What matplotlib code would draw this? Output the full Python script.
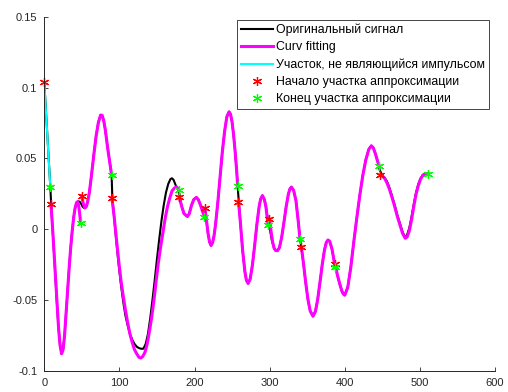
import numpy as np
import matplotlib
matplotlib.use('Agg')
import matplotlib.pyplot as plt

plt.rcParams['font.family'] = ['Liberation Sans', 'DejaVu Sans']

# segment that is not a pulse (cyan)
cyan_x = [0, 2, 4, 6, 8]
cyan_y = [0.104, 0.085, 0.067, 0.048, 0.030]

# original signal (black)
signal_x = [0, 4, 8, 9.5, 11, 13, 15, 17, 19, 21, 23, 25, 27, 29, 31, 33, 35, 37, 39, 41, 43, 45, 47, 49,
            51, 53, 55, 57, 60, 63, 66, 69, 72, 75, 77, 79, 81, 83, 85, 87, 89.6, 90.6, 93, 96, 99, 102,
            105, 108, 111, 114, 117, 120, 123, 126, 129, 132, 135, 138, 141, 144, 147, 150, 153, 156, 159,
            162, 165, 168, 170, 172, 175, 177, 179, 181, 183, 186, 190.5, 193, 196, 199, 202.5, 205, 208,
            211, 213.5, 216, 218, 220, 222, 224, 226, 228, 231, 234, 237, 240, 243, 246, 248, 250, 252, 254,
            256, 258, 261, 264, 267, 269, 271.3, 274, 277, 280, 283, 286, 288, 290.4, 293, 295, 297, 299,
            301, 303, 306, 308, 310.3, 313, 316, 319, 322, 325, 327, 329, 332, 335, 338, 340.4, 342.3, 345,
            348, 351, 354, 357.7, 361, 364, 367, 370, 373, 375.5, 377.7, 380, 383, 385, 387.3, 390, 393, 396,
            398, 400, 404, 408, 412, 416, 420, 424, 428, 432, 435.4, 438, 441, 444, 446.5, 450, 453, 456,
            459, 462, 466, 470, 474, 477, 480.5, 483, 486, 489, 492, 495, 498, 501, 504, 507, 510.9]
signal_y = [0.104, 0.067, 0.030, 0.014, 0.001, -0.017, -0.036, -0.054, -0.070, -0.082, -0.088, -0.085,
            -0.075, -0.059, -0.043, -0.028, -0.014, -0.002, 0.008, 0.015, 0.0185, 0.0197, 0.0195, 0.018,
            0.016, 0.015, 0.0153, 0.018, 0.026, 0.039, 0.053, 0.066, 0.0755, 0.0807, 0.0805, 0.077, 0.071,
            0.063, 0.055, 0.048, 0.0385, 0.022, 0.008, -0.009, -0.025, -0.039, -0.051, -0.061, -0.068,
            -0.074, -0.078, -0.081, -0.083, -0.084, -0.0845, -0.0844, -0.081, -0.074, -0.063, -0.050,
            -0.036, -0.021, -0.007, 0.006, 0.017, 0.026, 0.032, 0.0355, 0.036, 0.035, 0.031, 0.029, 0.0275,
            0.021, 0.016, 0.011, 0.009, 0.011, 0.017, 0.021, 0.0225, 0.021, 0.017, 0.0135, 0.011, 0.005,
            -0.003, -0.009, -0.0115, -0.0095, -0.0045, 0.0035, 0.019, 0.037, 0.0547, 0.069, 0.0795, 0.083,
            0.0812, 0.0757, 0.0667, 0.0553, 0.042, 0.026, 0.005, -0.0148, -0.0298, -0.036, -0.0383, -0.0353,
            -0.0256, -0.0116, 0.0035, 0.016, 0.0213, 0.0238, 0.021, 0.016, 0.009, 0.004, -0.002, -0.008,
            -0.0135, -0.015, -0.0152, -0.013, -0.0057, 0.0048, 0.016, 0.025, 0.0285, 0.0298, 0.0273, 0.0203,
            0.006, -0.007, -0.0128, -0.024, -0.0378, -0.0497, -0.0578, -0.0615, -0.058, -0.0494, -0.0375,
            -0.025, -0.0146, -0.0092, -0.0076, -0.0086, -0.014, -0.020, -0.0255, -0.032, -0.038, -0.0435,
            -0.0457, -0.0466, -0.041, -0.027, -0.009, 0.008, 0.024, 0.038, 0.049, 0.0565, 0.059, 0.0575,
            0.053, 0.0475, 0.042, 0.038, 0.0365, 0.034, 0.030, 0.025, 0.018, 0.010, 0.003, -0.002, -0.0058,
            -0.004, 0.001, 0.009, 0.018, 0.026, 0.032, 0.036, 0.0385, 0.0393, 0.0392]

# fitted pieces (magenta), NaN separates the pieces
nan = np.nan
fit_x = [8.9, 11, 13, 15, 17, 19, 21, 23, 25, 27, 29, 31, 33, 35, 37, 39, 41, 43, 44.5, 46, 47, 48.4, nan,
         49.6, 52, 54, 56, 58, 60, 63, 66, 69, 72, 75, 77, 79, 81, 83, 85, 87, 89.6, nan,
         90.0, 93, 96, 99, 102, 105, 108, 111, 114, 117, 120, 123, 126, 128.5, 131, 134, 137, 140, 143, 146,
         149, 152, 155, 158, 161, 164, 167, 170, 173, 176, 179, nan,
         179.6, 183, 186, 190.5, 193, 196, 199, 202.5, 205, 208, 211, 213.2, nan,
         213.7, 216, 218, 220, 222, 224, 226, 228, 231, 234, 237, 240, 243, 246, 248, 250, 252, 254, 256,
         257.5, nan,
         258.5, 261, 264, 267, 269, 271.3, 274, 277, 280, 283, 286, 288, 290.4, 293, 295, 297.9, nan,
         299.8, 302, 304, 306, 308, 310.3, 313, 316, 319, 322, 325, 327, 329, 332, 335, 338, 340.4, nan,
         342.3, 345, 348, 351, 354, 357.7, 361, 364, 367, 370, 373, 375.5, 377.7, 380, 383, 385, 387, nan,
         387.6, 390, 393, 396, 398, 400, 404, 408, 412, 416, 420, 424, 428, 432, 435.4, 438, 441, 444, 445.9,
         nan,
         447.4, 450, 453, 456, 459, 462, 466, 470, 474, 477, 480.5, 483, 486, 489, 492, 495, 498, 501, 504,
         507, 510.9]
fit_y = [0.0178, 0.001, -0.017, -0.036, -0.054, -0.070, -0.082, -0.088, -0.085, -0.075, -0.059, -0.043,
         -0.028, -0.014, -0.002, 0.008, 0.015, 0.019, 0.0195, 0.016, 0.011, 0.0047, nan,
         0.0238, 0.018, 0.015, 0.016, 0.020, 0.026, 0.039, 0.053, 0.066, 0.0755, 0.0807, 0.0805, 0.077, 0.071,
         0.063, 0.055, 0.048, 0.0385, nan,
         0.022, 0.009, -0.007, -0.022, -0.036, -0.047, -0.057, -0.066, -0.074, -0.080, -0.085, -0.088,
         -0.0905, -0.091, -0.090, -0.087, -0.081, -0.072, -0.062, -0.050, -0.036, -0.023, -0.012, -0.002,
         0.008, 0.016, 0.022, 0.027, 0.029, 0.030, 0.0279, nan,
         0.0227, 0.016, 0.011, 0.009, 0.011, 0.017, 0.021, 0.0225, 0.021, 0.017, 0.012, 0.0089, nan,
         0.0149, 0.006, -0.003, -0.009, -0.0115, -0.0095, -0.0045, 0.0035, 0.019, 0.037, 0.0547, 0.069,
         0.0795, 0.083, 0.0812, 0.0757, 0.0667, 0.0553, 0.042, 0.0305, nan,
         0.0196, 0.005, -0.0148, -0.0298, -0.036, -0.0383, -0.0353, -0.0256, -0.0116, 0.0035, 0.016, 0.0213,
         0.0238, 0.021, 0.016, 0.003, nan,
         0.0071, -0.002, -0.009, -0.0135, -0.015, -0.0152, -0.013, -0.0057, 0.0048, 0.016, 0.025, 0.0285,
         0.0298, 0.0273, 0.0203, 0.006, -0.0069, nan,
         -0.0128, -0.024, -0.0378, -0.0497, -0.0578, -0.0615, -0.058, -0.0494, -0.0375, -0.025, -0.0146,
         -0.0092, -0.0076, -0.0086, -0.014, -0.020, -0.0265, nan,
         -0.0248, -0.032, -0.038, -0.0435, -0.0457, -0.0466, -0.041, -0.027, -0.009, 0.008, 0.024, 0.038,
         0.049, 0.0565, 0.059, 0.0575, 0.053, 0.0475, 0.0449, nan,
         0.0385, 0.0375, 0.036, 0.033, 0.029, 0.024, 0.017, 0.009, 0.002, -0.003, -0.0064, -0.0055, -0.001,
         0.007, 0.0165, 0.025, 0.031, 0.0355, 0.038, 0.0393, 0.0392]

# start / end of the approximated pieces
start_x = [0, 8.9, 49.6, 90.0, 179.6, 213.7, 258.5, 299.8, 342.3, 387.6, 447.4]
start_y = [0.104, 0.0178, 0.0238, 0.022, 0.0227, 0.0149, 0.0196, 0.0071, -0.0128, -0.0248, 0.0385]
end_x = [7.6, 48.4, 89.6, 179.0, 213.2, 257.5, 297.9, 340.4, 387.0, 445.9, 510.9]
end_y = [0.030, 0.0047, 0.0385, 0.0279, 0.0089, 0.0305, 0.003, -0.0069, -0.0265, 0.0449, 0.0392]

xticks = [0, 100, 200, 300, 400, 500, 600]
yticks = [-0.1, -0.05, 0, 0.05, 0.1, 0.15]
ytick_labels = ['-0.1', '-0.05', '0', '0.05', '0.1', '0.15']

fig = plt.figure(figsize=(5.08, 3.92), dpi=100)
ax = fig.add_axes([0.0872, 0.0543, 0.8872, 0.9023])

ax.plot(signal_x, signal_y, color='k', lw=1.5, label='Оригинальный сигнал')
ax.plot(fit_x, fit_y, color=(1, 0, 1), lw=2.2, label='Curv fitting')
ax.plot(cyan_x, cyan_y, color=(0, 1, 1), lw=1.5, label='Участок, не являющийся импульсом')
ax.plot(start_x, start_y, ls='none', marker=(6, 2, 0), ms=6.5, mew=0.9, color=(1, 0, 0),
        label='Начало участка аппроксимации', clip_on=False)
ax.plot(end_x, end_y, ls='none', marker=(6, 2, 0), ms=6.5, mew=0.9, color=(0, 1, 0),
        label='Конец участка аппроксимации', clip_on=False)

ax.set_xlim(0, 600)
ax.set_ylim(-0.1, 0.15)
ax.set_xticks(xticks)
ax.set_yticks(yticks)
ax.set_yticklabels(ytick_labels)
for s in ['top', 'right']:
    ax.spines[s].set_visible(False)
for s in ['left', 'bottom']:
    ax.spines[s].set_color('0.15')
    ax.spines[s].set_linewidth(0.7)
ax.tick_params(direction='in', length=3, width=0.6, colors='0.15', labelsize=8)
ax.tick_params(axis='y', pad=5)
ax.tick_params(axis='x', pad=5)

leg = ax.legend(loc='upper right', bbox_to_anchor=(0.987, 0.992), borderaxespad=0, fontsize=8.9,
                fancybox=False, framealpha=1, edgecolor='0.15', handlelength=2.6, handletextpad=0.25,
                labelspacing=0.42, borderpad=0.3)
leg.get_frame().set_linewidth(0.6)

fig.savefig('out.png', dpi=100)
